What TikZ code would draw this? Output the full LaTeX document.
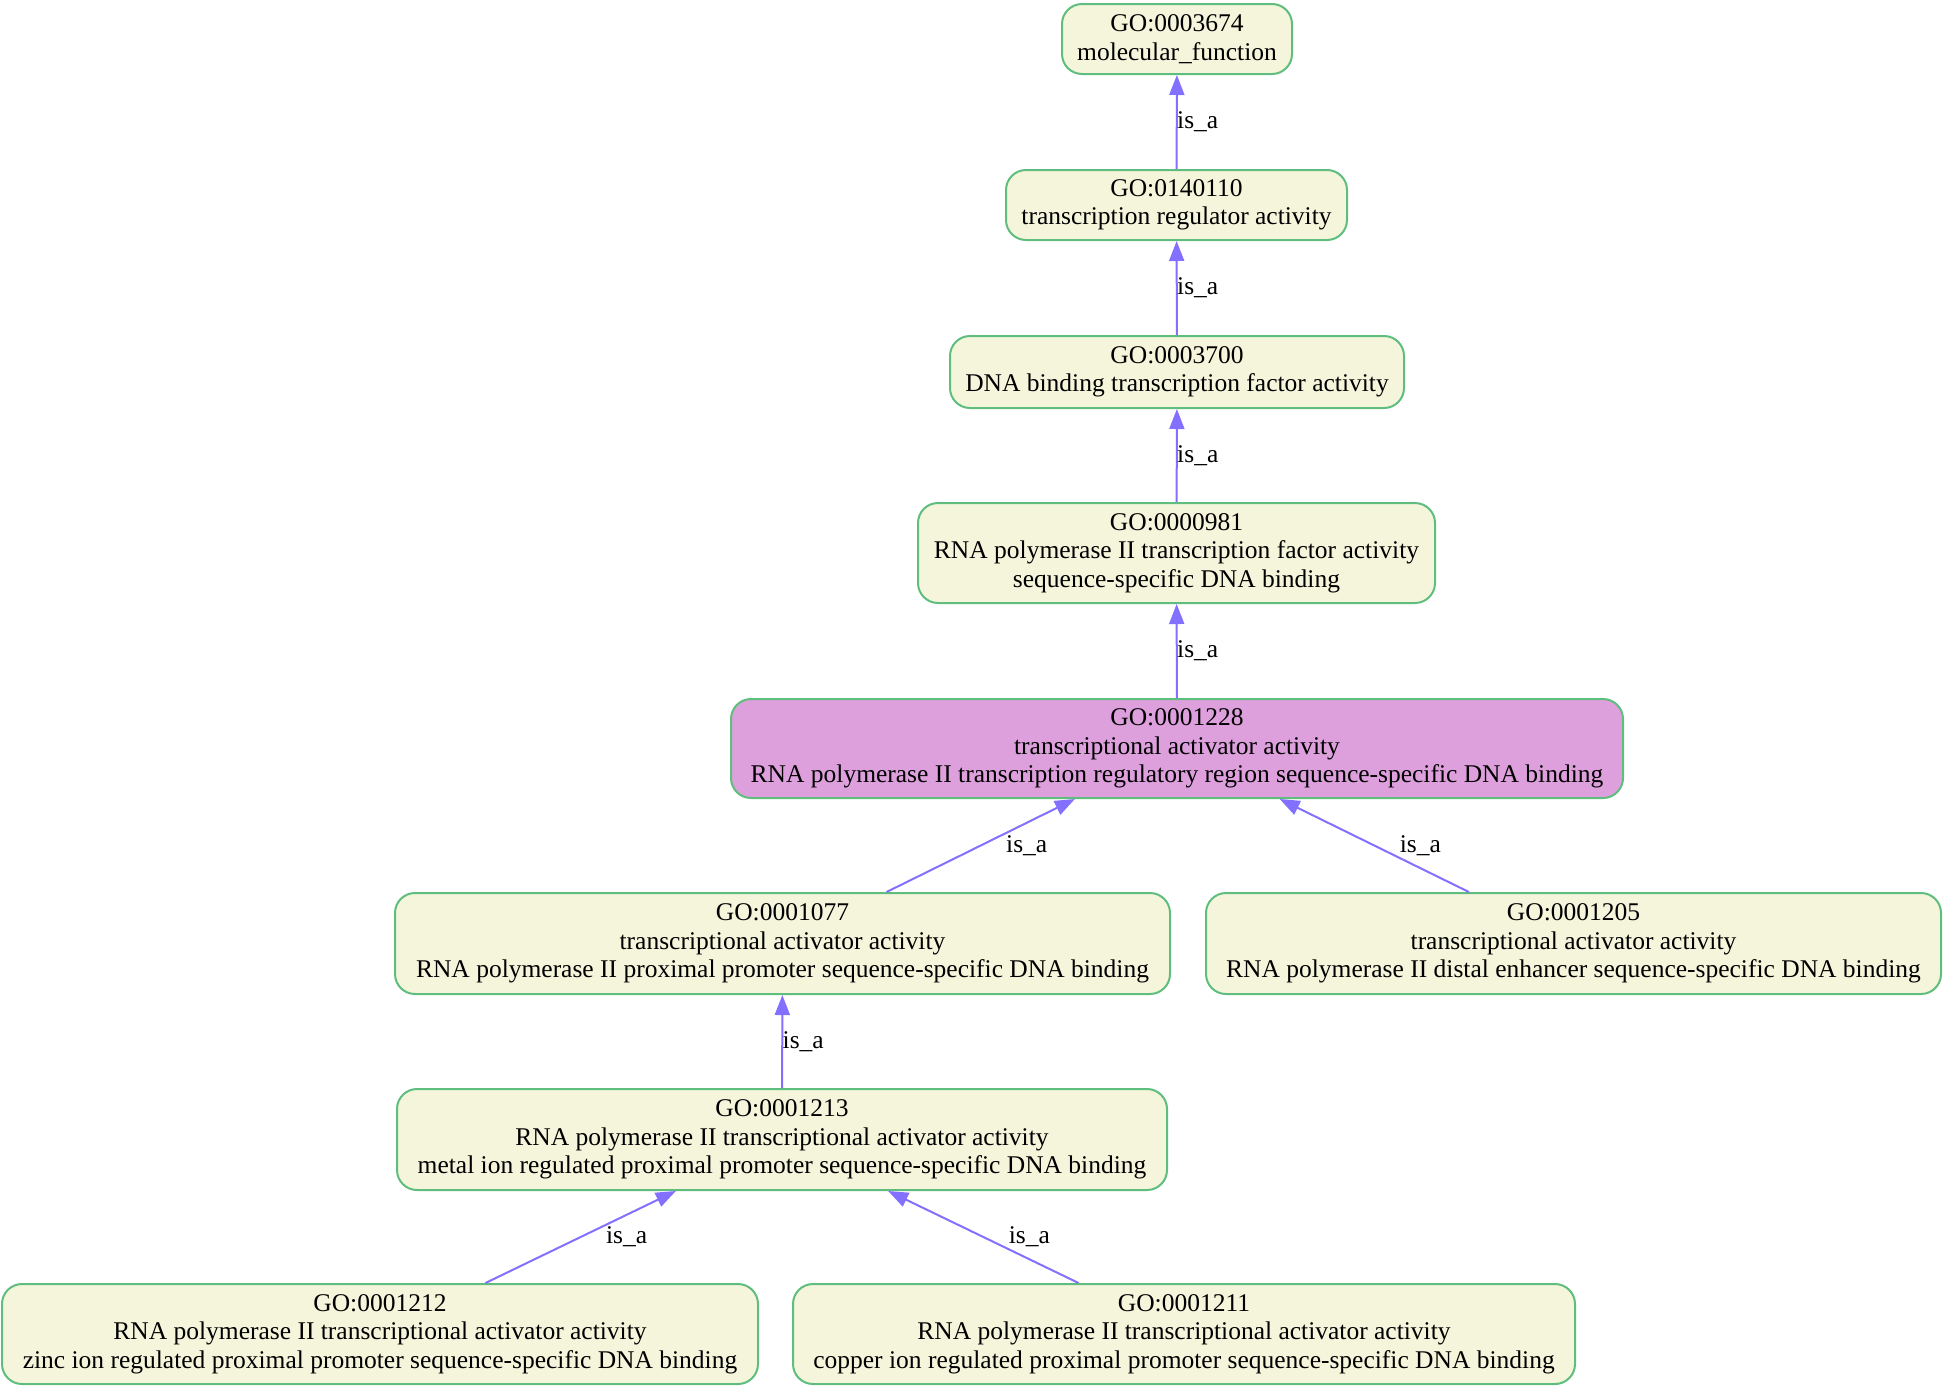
\documentclass[tikz,border=0pt]{standalone}
\usepackage{fontspec}
\setmainfont{Liberation Serif}
\usetikzlibrary{arrows.meta}
\definecolor{gobeige}{RGB}{245,245,220}
\definecolor{goplum}{RGB}{221,160,221}
\definecolor{goborder}{RGB}{95,190,125}
\definecolor{goedge}{RGB}{132,112,255}
\tikzset{
  gonode/.style={draw=goborder, line width=2pt, fill=gobeige, rounded corners=20pt,
    align=center, inner sep=0pt, font=\fontsize{25.5}{28.5}\selectfont},
  hilite/.style={gonode, fill=goplum},
  isa/.style={draw=goedge, line width=2pt, -{Triangle[length=20pt,width=15pt]}},
  isalab/.style={font=\fontsize{25.5}{28.5}\selectfont, inner sep=0pt},
}
\begin{document}
\begin{tikzpicture}[x=1pt,y=-1pt]
\useasboundingbox[fill=white] (0,0) rectangle (1943,1387);
\node[gonode, minimum width=230pt, minimum height=70pt] (n1) at (1177,39) {GO:0003674\\molecular\_function};
\node[gonode, minimum width=341pt, minimum height=70pt] (n2) at (1176.5,205) {GO:0140110\\transcription regulator activity};
\node[gonode, minimum width=454pt, minimum height=72pt] (n3) at (1177,372) {GO:0003700\\DNA binding transcription factor activity};
\node[gonode, minimum width=517pt, minimum height=100pt] (n4) at (1176.5,553) {GO:0000981\\RNA polymerase II transcription factor activity\\sequence-specific DNA binding};
\node[hilite, minimum width=892pt, minimum height=99pt] (n5) at (1177,748.5) {GO:0001228\\transcriptional activator activity\\RNA polymerase II transcription regulatory region sequence-specific DNA binding};
\node[gonode, minimum width=775pt, minimum height=101pt] (n6) at (782.5,943.5) {GO:0001077\\transcriptional activator activity\\RNA polymerase II proximal promoter sequence-specific DNA binding};
\node[gonode, minimum width=735pt, minimum height=101pt] (n7) at (1573.5,943.5) {GO:0001205\\transcriptional activator activity\\RNA polymerase II distal enhancer sequence-specific DNA binding};
\node[gonode, minimum width=770pt, minimum height=101pt] (n8) at (782,1139.5) {GO:0001213\\RNA polymerase II transcriptional activator activity\\metal ion regulated proximal promoter sequence-specific DNA binding};
\node[gonode, minimum width=756pt, minimum height=100pt] (n9) at (380,1334) {GO:0001212\\RNA polymerase II transcriptional activator activity\\zinc ion regulated proximal promoter sequence-specific DNA binding};
\node[gonode, minimum width=782pt, minimum height=100pt] (n10) at (1184,1334) {GO:0001211\\RNA polymerase II transcriptional activator activity\\copper ion regulated proximal promoter sequence-specific DNA binding};

\draw[isa] (n2) -- node[isalab, midway, xshift=21pt] (l1) {is\_a} (n1);
\draw[isa] (n3) -- node[isalab, midway, xshift=21pt] (l2) {is\_a} (n2);
\draw[isa] (n4) -- node[isalab, midway, xshift=21pt] (l3) {is\_a} (n3);
\draw[isa] (n5) -- node[isalab, midway, xshift=21pt] (l4) {is\_a} (n4);
\draw[isa] (n6) -- node[isalab, midway, xshift=46pt] (l5) {is\_a} (n5);
\draw[isa] (n7) -- node[isalab, midway, xshift=46pt] (l6) {is\_a} (n5);
\draw[isa] (n8) -- node[isalab, midway, xshift=21pt] (l7) {is\_a} (n6);
\draw[isa] (n9) -- node[isalab, midway, xshift=46pt] (l8) {is\_a} (n8);
\draw[isa] (n10) -- node[isalab, midway, xshift=46pt] (l9) {is\_a} (n8);
\end{tikzpicture}
\end{document}
